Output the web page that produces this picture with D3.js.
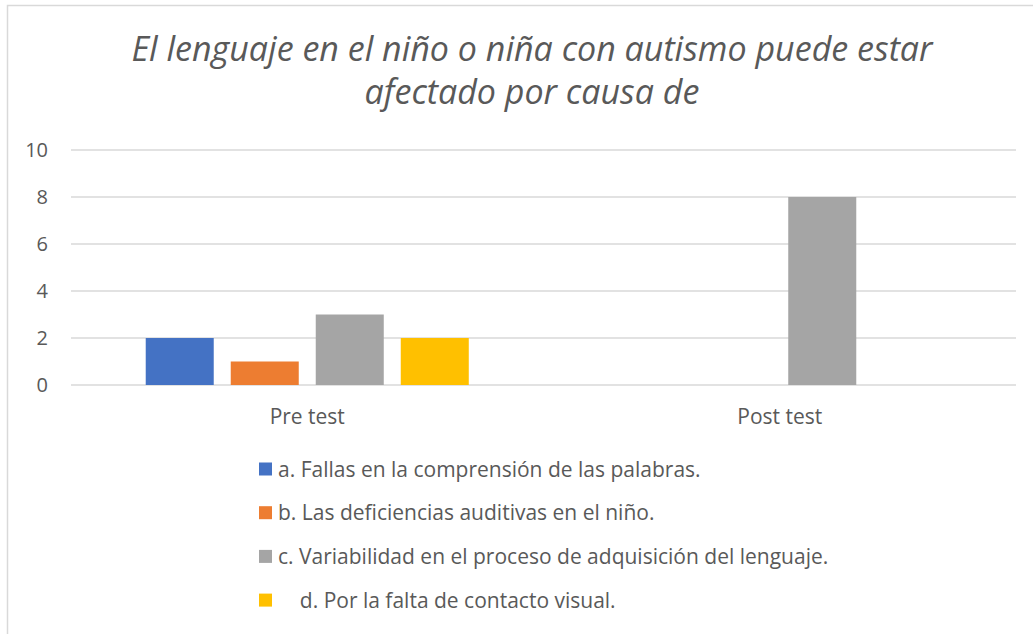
<!DOCTYPE html>
<html>
<head>
<meta charset="utf-8">
<script src="https://cdn.jsdelivr.net/npm/d3@7"></script>
<style>
  body { margin: 0; background: #fff; }
  text { font-family: "Open Sans", sans-serif; fill: #595959; }
</style>
</head>
<body>
<div id="chart"></div>
<script>
const categories = ["Pre test", "Post test"];
const seriesNames = [
    "a. Fallas en la comprensión de las palabras.",
    "b. Las deficiencias auditivas en el niño.",
    "c. Variabilidad en el proceso de adquisición del lenguaje.",
    "    d. Por la falta de contacto visual."
];
const seriesValues = [
    [2, 0],
    [1, 0],
    [3, 8],
    [2, 0]
];
const colors = ["#4472C4", "#ED7D31", "#A5A5A5", "#FFC000"];
const yTicks = [0, 2, 4, 6, 8, 10];
const titleLines = ["El lenguaje en el niño o niña con autismo puede estar", "afectado por causa de"];

const width = 1033, height = 634;
const plot = { left: 71, right: 1016, top: 150, bottom: 385 };

let svg = d3.select("#chart").append("svg")
    .attr("width", width)
    .attr("height", height);

// outer frame
svg.append("rect")
    .attr("x", 7.5).attr("y", 5.5)
    .attr("width", 1040).attr("height", 640)
    .attr("fill", "#fff")
    .attr("stroke", "#D9D9D9")
    .attr("stroke-width", 1.5);

svg.append("g").selectAll("text")
    .data(titleLines)
    .enter()
    .append("text")
    .attr("x", 532)
    .attr("y", (d, i) => 61 + i * 43)
    .attr("text-anchor", "middle")
    .style("font-size", "34px")
    .style("font-style", "italic")
    .text(d => d);

let y = d3.scaleLinear()
    .domain([0, 10])
    .range([plot.bottom, plot.top]);
let x0 = d3.scaleBand()
    .domain(categories)
    .range([plot.left, plot.right]);
let x1 = d3.scaleBand()
    .domain(d3.range(seriesNames.length))
    .range([0, x0.bandwidth()])
    .paddingInner(0.2)
    .paddingOuter(0.879);

// gridlines + y labels
let grid = svg.append("g");
grid.selectAll("line")
    .data(yTicks)
    .enter()
    .append("line")
    .attr("x1", plot.left).attr("x2", plot.right)
    .attr("y1", d => y(d)).attr("y2", d => y(d))
    .attr("stroke", "#D9D9D9")
    .attr("stroke-width", 1.3);
grid.selectAll("text")
    .data(yTicks)
    .enter()
    .append("text")
    .attr("x", 48)
    .attr("y", d => y(d))
    .attr("dy", "0.36em")
    .attr("text-anchor", "end")
    .style("font-size", "20px")
    .text(d => d);

// bars
let groups = svg.append("g").selectAll("g")
    .data(categories)
    .enter()
    .append("g")
    .attr("transform", d => `translate(${x0(d)},0)`);
groups.selectAll("rect")
    .data((c, ci) => seriesValues.map((vals, si) => ({ si: si, v: vals[ci] })))
    .enter()
    .append("rect")
    .attr("x", d => x1(d.si))
    .attr("width", x1.bandwidth())
    .attr("y", d => y(d.v))
    .attr("height", d => y(0) - y(d.v))
    .attr("fill", d => colors[d.si]);

// category labels
svg.append("g").selectAll("text")
    .data(categories)
    .enter()
    .append("text")
    .attr("x", d => x0(d) + x0.bandwidth() / 2)
    .attr("y", 424)
    .attr("text-anchor", "middle")
    .style("font-size", "21px")
    .text(d => d);

// legend
let legend = svg.append("g").selectAll("g")
    .data(seriesNames)
    .enter()
    .append("g")
    .attr("transform", (d, i) => `translate(259,${469 + i * 43.7})`);
legend.append("rect")
    .attr("x", 0).attr("y", -6.5)
    .attr("width", 13).attr("height", 13)
    .attr("fill", (d, i) => colors[i]);
legend.append("text")
    .attr("x", 19)
    .attr("dy", "0.36em")
    .style("font-size", "21px")
    .style("white-space", "pre")
    .text(d => d);
</script>
</body>
</html>
